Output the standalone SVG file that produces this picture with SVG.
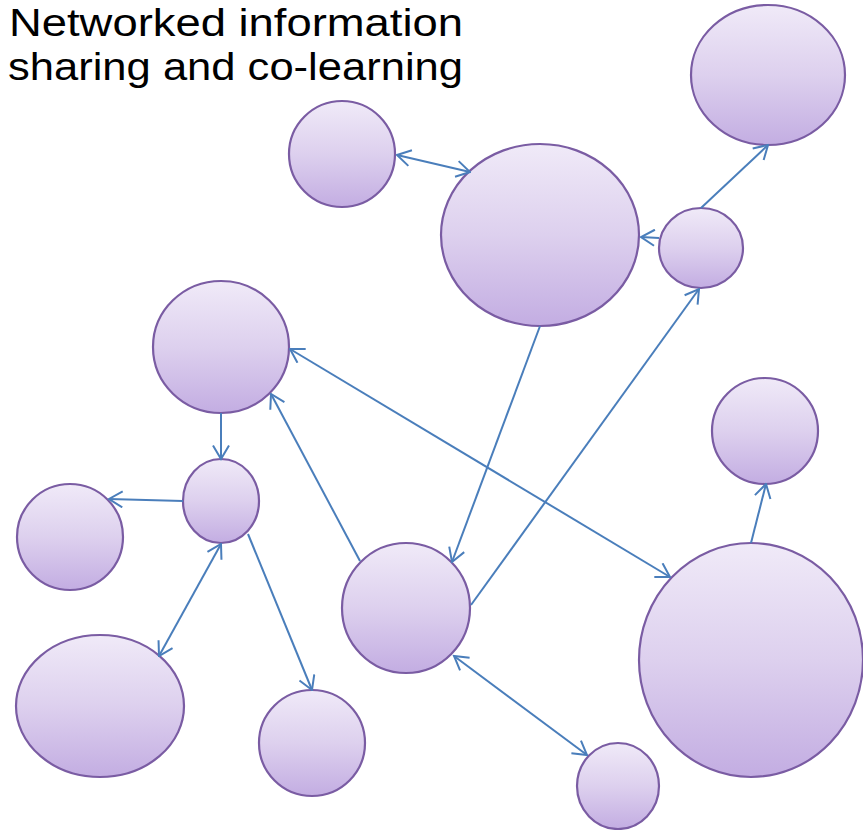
<svg xmlns="http://www.w3.org/2000/svg" width="863" height="830" viewBox="0 0 863 830">
<defs>
<linearGradient id="g" x1="0" y1="0" x2="0" y2="1">
<stop offset="0" stop-color="#f0eaf8"/>
<stop offset="0.5" stop-color="#ddd0ee"/>
<stop offset="1" stop-color="#c3ade2"/>
</linearGradient>
<marker id="ah" markerUnits="userSpaceOnUse" viewBox="0 0 16 18" markerWidth="16" markerHeight="18" refX="14.5" refY="9" orient="auto-start-reverse">
<path d="M1,1 L14.5,9 L1,17" fill="none" stroke="#4a7ebb" stroke-width="2"/>
</marker>
<style>
.n{fill:url(#g);stroke:#7a5ca3;stroke-width:2.2}
.c{stroke:#4a7ebb;stroke-width:2;fill:none}
.t{font-family:"Liberation Sans",Arial,sans-serif;font-size:38px;fill:#000}
</style>
</defs>
<g id="title">
<text class="t"><tspan x="9" y="36" textLength="454" lengthAdjust="spacingAndGlyphs">Networked information</tspan><tspan x="8" y="80" textLength="455" lengthAdjust="spacingAndGlyphs">sharing and co-learning</tspan></text>
</g>
<g id="nodes">
<g id="n1"><ellipse class="n" cx="342" cy="154" rx="53" ry="53"/></g>
<g id="n2"><ellipse class="n" cx="540" cy="235" rx="99" ry="91"/></g>
<g id="n3"><ellipse class="n" cx="768" cy="75" rx="77" ry="70"/></g>
<g id="n4"><ellipse class="n" cx="701" cy="248" rx="42" ry="40"/></g>
<g id="n5"><ellipse class="n" cx="221" cy="347" rx="68" ry="66"/></g>
<g id="n6"><ellipse class="n" cx="221" cy="501" rx="38" ry="42"/></g>
<g id="n7"><ellipse class="n" cx="70" cy="537" rx="53" ry="53"/></g>
<g id="n8"><ellipse class="n" cx="100" cy="706" rx="84" ry="71"/></g>
<g id="n9"><ellipse class="n" cx="312" cy="743" rx="53" ry="53"/></g>
<g id="n10"><ellipse class="n" cx="406" cy="608" rx="64" ry="65"/></g>
<g id="n11"><ellipse class="n" cx="618" cy="786" rx="41" ry="43"/></g>
<g id="n12"><ellipse class="n" cx="765" cy="431" rx="53" ry="53"/></g>
<g id="n13"><ellipse class="n" cx="751" cy="660" rx="112" ry="117"/></g>
</g>
<g id="connectors">
<line class="c" x1="397" y1="155" x2="470" y2="172" marker-start="url(#ah)" marker-end="url(#ah)"/>
<line class="c" x1="701" y1="208" x2="768" y2="145" marker-end="url(#ah)"/>
<line class="c" x1="659" y1="238" x2="641" y2="237" marker-end="url(#ah)"/>
<line class="c" x1="540" y1="326" x2="452" y2="562" marker-end="url(#ah)"/>
<line class="c" x1="471" y1="605" x2="699" y2="289" marker-end="url(#ah)"/>
<line class="c" x1="290" y1="349" x2="670" y2="577" marker-start="url(#ah)" marker-end="url(#ah)"/>
<line class="c" x1="360" y1="561" x2="271" y2="394" marker-end="url(#ah)"/>
<line class="c" x1="221" y1="413" x2="221" y2="459" marker-end="url(#ah)"/>
<line class="c" x1="183" y1="501" x2="109" y2="499" marker-end="url(#ah)"/>
<line class="c" x1="221" y1="544" x2="159" y2="656" marker-start="url(#ah)" marker-end="url(#ah)"/>
<line class="c" x1="248" y1="534" x2="312" y2="690" marker-end="url(#ah)"/>
<line class="c" x1="454" y1="656" x2="587" y2="755" marker-start="url(#ah)" marker-end="url(#ah)"/>
<line class="c" x1="751" y1="543" x2="766" y2="484" marker-end="url(#ah)"/>
</g>
</svg>
